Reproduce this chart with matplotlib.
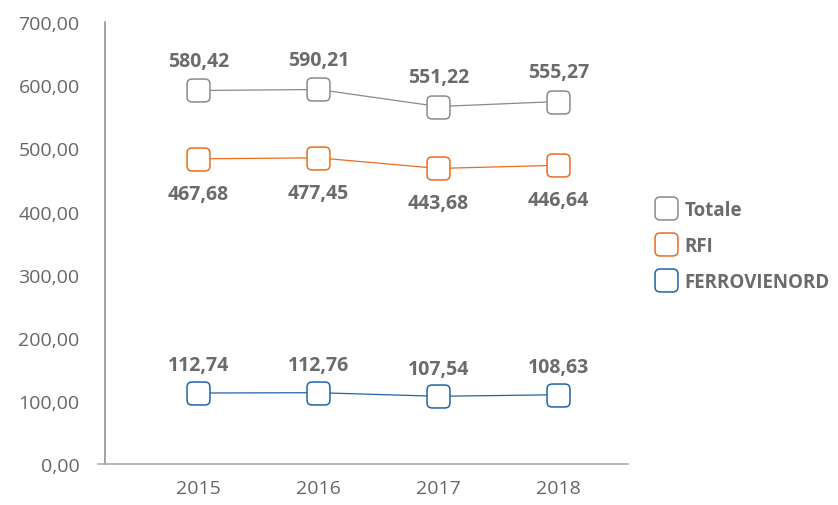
"""
Totale / RFI / FERROVIENORD, 2015-2018.
"""

import matplotlib
matplotlib.use('Agg')
import matplotlib.pyplot as plt
import matplotlib.patches as mpatches
from matplotlib.lines import Line2D

plt.rcParams['font.family'] = ['Open Sans', 'DejaVu Sans']

# data
years = ['2015', '2016', '2017', '2018']
series = ['Totale', 'RFI', 'FERROVIENORD']

# point heights as drawn in the picture
totale = [591.9, 593.5, 566.5, 574.4]
rfi = [483.6, 485.2, 468.4, 473.4]
ferrovienord = [112.5, 113.0, 107.3, 109.8]

# printed value labels
totale_lbl = ['580,42', '590,21', '551,22', '555,27']
rfi_lbl = ['467,68', '477,45', '443,68', '446,64']
ferrovienord_lbl = ['112,74', '112,76', '107,54', '108,63']

yticks = [0, 100, 200, 300, 400, 500, 600, 700]

# styles
colors = ['#8a8a8a', '#ec6b1e', '#1f63ad']
text_col = '#666666'
lbl_col = '#6b6b6b'

# rounded square marker
box = mpatches.FancyBboxPatch((-0.5, -0.5), 1, 1,
                              boxstyle='round,pad=0,rounding_size=0.22')
rsq = box.get_path()

fig = plt.figure(figsize=(8.38, 5.06), dpi=100)
ax = fig.add_axes([0.1249, 0.081, 0.6245, 0.873])

x = list(range(len(years)))
data = [totale, rfi, ferrovienord]
labels = [totale_lbl, rfi_lbl, ferrovienord_lbl]
offsets = [21, -25, 20]

for vals, lbls, c, off in zip(data, labels, colors, offsets):
    ax.plot(x, vals, color=c, lw=0.9, marker=rsq, ms=16.5,
            mfc='white', mec=c, mew=1.1, zorder=3)
    for xi, v, t in zip(x, vals, lbls):
        ax.annotate(t, (xi, v), xytext=(0, off), textcoords='offset points',
                    ha='center', va='center', fontsize=14,
                    fontweight='bold', color=lbl_col)

ax.set_xlim(-0.78, 3.58)
ax.set_ylim(0, 700)
ax.set_xticks(x)
ax.set_xticklabels(years)
ax.set_yticks(yticks)
ax.set_yticklabels(['%d,00' % v for v in yticks])

for s in ['top', 'right']:
    ax.spines[s].set_visible(False)
ax.spines['left'].set_color('#8c8c8c')
ax.spines['left'].set_linewidth(1.1)
ax.spines['bottom'].set_color('#a6a6a6')
ax.spines['bottom'].set_linewidth(1.1)
# x axis line pokes a little left of the y axis
ax.spines['bottom'].set_bounds(-0.835, 3.58)

ax.tick_params(axis='both', which='major', length=0, labelsize=14,
               labelcolor=text_col)
ax.tick_params(axis='y', which='major', pad=18)
ax.tick_params(axis='x', which='major', pad=11)

handles = [Line2D([], [], ls='none', marker=rsq, ms=16.5, mfc='white',
                  mec=c, mew=1.1) for c in colors]
leg = fig.legend(handles, series, loc='center left',
                 bbox_to_anchor=(0.772, 0.512), frameon=False,
                 handlelength=1.0, handletextpad=0.5, labelspacing=0.85,
                 borderpad=0, prop={'size': 13.5, 'weight': 'bold'})
for t in leg.get_texts():
    t.set_color(lbl_col)

fig.savefig('out.png', dpi=100)
